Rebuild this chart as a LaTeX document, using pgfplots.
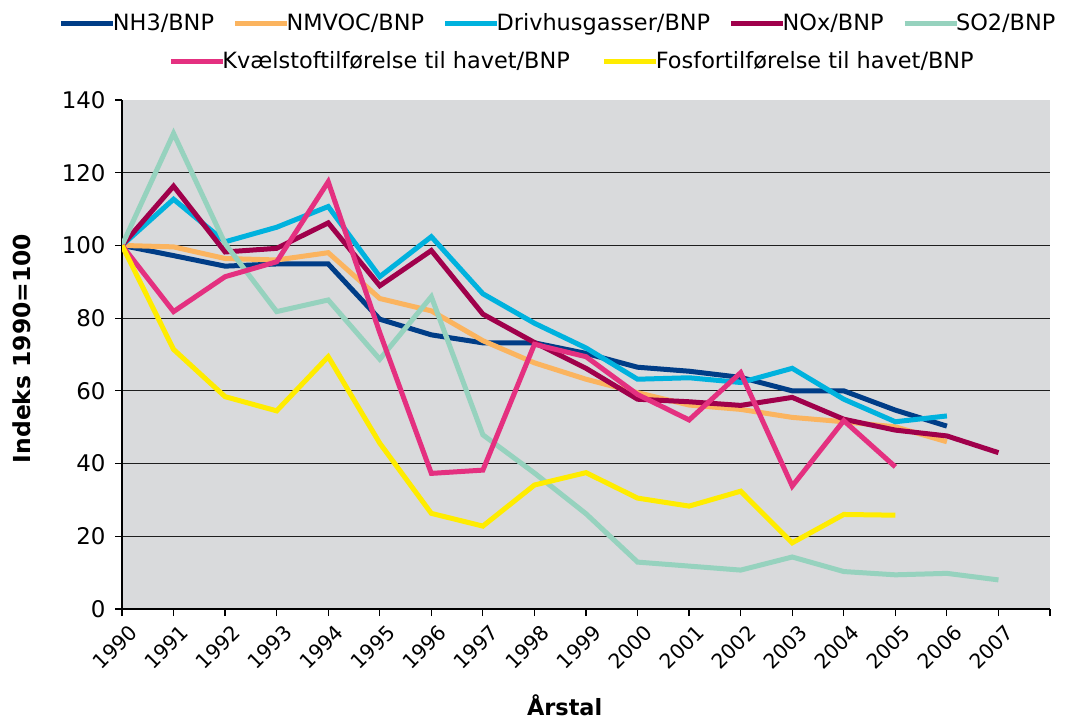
\documentclass[border=0pt]{standalone}
\usepackage{fontspec}
\setmainfont{DejaVu Sans}
\usepackage{pgfplots}
\usepackage{pgfplotstable}
\pgfplotsset{compat=1.18}
\definecolor{cNH}{RGB}{0,61,135}
\definecolor{cNM}{RGB}{251,180,95}
\definecolor{cDH}{RGB}{0,178,222}
\definecolor{cNO}{RGB}{160,0,75}
\definecolor{cSO}{RGB}{150,210,190}
\definecolor{cKV}{RGB}{228,48,128}
\definecolor{cFO}{RGB}{255,236,0}
\definecolor{bgc}{RGB}{217,218,220}
\definecolor{gridc}{RGB}{30,30,30}

\pgfplotstableread{
year NH3  NMVOC DH    NOx   SO2   KV    FO
1990 100  100   100   100   100   100   100
1991 97.2 99.6  112.7 116.3 130.8 81.8  71.4
1992 94.3 96.4  101.0 98.2  100.5 91.4  58.4
1993 94.9 96.0  105.0 99.2  81.8  95.5  54.5
1994 94.9 98.0  110.7 106.2 85.0  117.5 69.4
1995 79.7 85.4  91.4  88.9  68.7  76.0  45.6
1996 75.4 82.0  102.4 98.6  85.9  37.3  26.3
1997 73.2 73.8  86.7  81.1  47.9  38.2  22.8
1998 73.2 67.7  78.6  73.3  37.4  72.8  34.1
1999 70.3 63.2  71.8  66.2  26.2  69.4  37.5
2000 66.5 59.5  63.2  57.7  12.9  59.0  30.5
2001 65.4 56.1  63.6  57.0  11.8  52.0  28.3
2002 63.7 54.9  62.3  56.0  10.7  65.0  32.4
2003 60.0 52.7  66.2  58.2  14.3  33.8  18.2
2004 60.0 51.5  57.7  52.2  10.3  51.8  26.0
2005 54.7 50.1  51.5  49.2  9.4   39.1  25.8
2006 50.3 46.0  53.1  47.6  9.8   nan   nan
2007 nan  nan   nan   43.0  8.0   nan   nan
}\data

\begin{document}
\fontsize{22}{26}\selectfont
\begin{tikzpicture}
\useasboundingbox (0,0) rectangle (1065bp,720bp);
\begin{axis}[
  name=main,
  at={(122bp,111bp)}, anchor=south west,
  scale only axis, width=928bp, height=509bp,
  xmin=1990, xmax=2008, ymin=0, ymax=140,
  axis x line*=bottom, axis y line*=left,
  axis line style={line width=1.3bp, black},
  axis background/.style={fill=bgc},
  xtick={1990,...,2008},
  xticklabels={1990,1991,1992,1993,1994,1995,1996,1997,1998,1999,2000,2001,2002,2003,2004,2005,2006,2007,},
  ytick={0,20,...,120},
  extra y ticks={140},
  extra y tick style={grid=none},
  ymajorgrids,
  major grid style={line width=1.1bp, gridc},
  tick align=outside,
  major tick length=7bp,
  tick style={line width=1.2bp, black},
  /pgf/number format/assume math mode=true,
  yticklabel style={font=\fontsize{23}{27}\selectfont, xshift=-2bp},
  xticklabel style={font=\fontsize{20.5}{24}\selectfont, xshift=-7bp, rotate=45, anchor=center},
  xticklabel shift=31bp,
  xlabel={\textbf{Årstal}},
  ylabel={\textbf{Indeks 1990=100}},
  every axis x label/.style={at={(axis description cs:0.477,0)}, yshift=-96bp, anchor=center, font=\fontsize{22.5}{26}\selectfont},
  every axis y label/.style={at={(axis description cs:0,0.512)}, xshift=-100bp, rotate=90, anchor=center, font=\fontsize{23.5}{27}\selectfont},
  legend columns=5,
  legend style={at={(axis description cs:0.47,1.15)}, anchor=center, draw=none, fill=none,
    font=\fontsize{22.5}{26}\selectfont,
    /tikz/every even column/.append style={column sep=16.5bp},
    /tikz/every odd column/.append style={column sep=-5bp}},
  legend image code/.code={\draw[#1, line width=5bp] (0bp,0bp) -- (52bp,0bp);},
  every axis plot/.append style={line width=5bp, line join=miter, mark=none},
]
\addplot[cNH] table[x=year, y=NH3] {\data};
\addlegendentry{NH3/BNP}
\addplot[cNM] table[x=year, y=NMVOC] {\data};
\addlegendentry{NMVOC/BNP}
\addplot[cDH] table[x=year, y=DH] {\data};
\addlegendentry{Drivhusgasser/BNP}
\addplot[cNO] table[x=year, y=NOx] {\data};
\addlegendentry{NOx/BNP}
\addplot[cSO] table[x=year, y=SO2] {\data};
\addlegendentry{SO2/BNP}
\addplot[cKV, forget plot] table[x=year, y=KV] {\data};
\addplot[cFO, forget plot] table[x=year, y=FO] {\data};
\end{axis}
\begin{axis}[
  at={(122bp,111bp)}, anchor=south west,
  scale only axis, width=928bp, height=509bp,
  xmin=1990, xmax=2008, ymin=0, ymax=140,
  hide axis,
  legend columns=2,
  legend style={at={(axis description cs:0.485,1.075)}, anchor=center, draw=none, fill=none,
    font=\fontsize{22.5}{26}\selectfont,
    /tikz/every even column/.append style={column sep=30bp},
    /tikz/every odd column/.append style={column sep=-5bp}},
  legend image code/.code={\draw[#1, line width=5bp] (0bp,0bp) -- (52bp,0bp);},
]
\addlegendimage{cKV}
\addlegendentry{Kvælstoftilførelse til havet/BNP}
\addlegendimage{cFO}
\addlegendentry{Fosfortilførelse til havet/BNP}
\end{axis}
\end{tikzpicture}
\end{document}
